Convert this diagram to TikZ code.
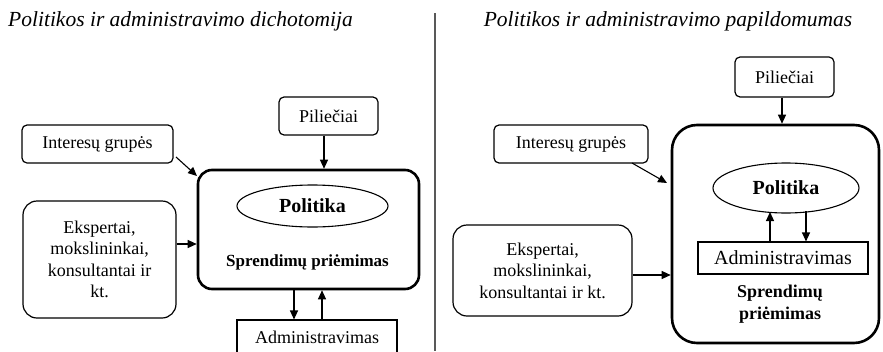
\documentclass[tikz,border=0pt]{standalone}
\usepackage{fontspec}
\setmainfont{Liberation Serif}
\usetikzlibrary{shapes.geometric,arrows.meta}
\begin{document}
\begin{tikzpicture}[x=1pt,y=-1pt,
  rbox/.style={draw,line width=1.2pt,rounded corners=5pt,align=center,inner sep=0pt},
  bigbox/.style={draw,line width=2.6pt,rounded corners=14pt,inner sep=0pt},
  sbox/.style={draw,line width=1.1pt,inner sep=0pt},
  ell/.style={draw,ellipse,line width=1.1pt,inner sep=0pt},
  arr/.style={-{Triangle[length=9pt,width=8pt]},line width=1.1pt},
  txt/.style={font=\fontsize{18}{21.5}\selectfont},
  ttl/.style={font=\fontsize{21.5}{25}\selectfont\itshape,anchor=base west,inner sep=0pt}
]
\useasboundingbox (0,0) rectangle (883,351);
% separator
\draw[line width=1.3pt,draw=black!65] (435,13) -- (435,351);
% titles
\node[ttl] (t1) at (8,26) {Politikos ir administravimo dichotomija};
\node[ttl,anchor=base] (t2) at (668,26) {Politikos ir administravimo papildomumas};

% ---------- left panel ----------
\node[rbox,txt,minimum width=99pt,minimum height=38pt] (pil1) at (328.5,116) {Piliečiai};
\node[rbox,txt,minimum width=151pt,minimum height=38pt] (int1) at (97.5,144) {Interesų grupės};
\node[bigbox,minimum width=221pt,minimum height=119pt] (main1) at (308.5,229.5) {};
\node[ell,minimum width=151pt,minimum height=42pt,font=\fontsize{20}{24}\selectfont\bfseries] (pol1) at (312.5,206) {Politika};
\node[font=\fontsize{17}{20}\selectfont\bfseries] (spr1) at (307.5,262) {Sprendimų priėmimas};
\node[rbox,txt,rounded corners=14pt,minimum width=153pt,minimum height=117pt] (eks1) at (99.5,259.5) {Ekspertai,\\mokslininkai,\\konsultantai ir\\kt.};
\node[sbox,txt,minimum width=160pt,minimum height=34pt] (adm1) at (317,337) {Administravimas};

\draw[arr] (pil1.south -| 324,0) -- (main1.north -| 324,0);
\coordinate (i1s) at (176,157);
\coordinate (i1e) at (197,176);
\draw[arr] (i1s) -- (i1e);
\path ([yshift=15.5pt]eks1.east) coordinate (e1);
\draw[arr] (e1) -- (e1 -| main1.west);
\draw[arr] (main1.south -| 294,0) -- (adm1.north -| 294,0);
\draw[arr] (adm1.north -| 322,0) -- (main1.south -| 322,0);

% ---------- right panel ----------
\node[rbox,txt,minimum width=99pt,minimum height=40pt] (pil2) at (784.5,77) {Piliečiai};
\node[rbox,txt,minimum width=154pt,minimum height=38pt] (int2) at (571,144) {Interesų grupės};
\node[bigbox,rounded corners=25pt,minimum width=207pt,minimum height=218pt] (main2) at (775.5,234) {};
\node[ell,minimum width=146pt,minimum height=50pt,font=\fontsize{20}{24}\selectfont\bfseries] (pol2) at (786,188) {Politika};
\node[sbox,minimum width=170pt,minimum height=32pt,font=\fontsize{20}{24}\selectfont] (adm2) at (783,258) {Administravimas};
\node[font=\fontsize{18}{22}\selectfont\bfseries,align=center] (spr2) at (780,304) {Sprendimų\\priėmimas};
\node[rbox,txt,rounded corners=14pt,minimum width=179pt,minimum height=91pt] (eks2) at (542.5,270.5) {Ekspertai,\\mokslininkai,\\konsultantai ir kt.};

\draw[arr] (pil2.south -| 782,0) -- (main2.north -| 782,0);
\coordinate (i2s) at (632,163);
\coordinate (i2e) at (667,183);
\draw[arr] (i2s) -- (i2e);
\path ([yshift=-4.5pt]eks2.east) coordinate (e2);
\draw[arr] (e2) -- (e2 -| main2.west);
\draw[arr] (adm2.north -| 770,0) -- (770,212);
\draw[arr] (806,211) -- (adm2.north -| 806,0);
\end{tikzpicture}
\end{document}
